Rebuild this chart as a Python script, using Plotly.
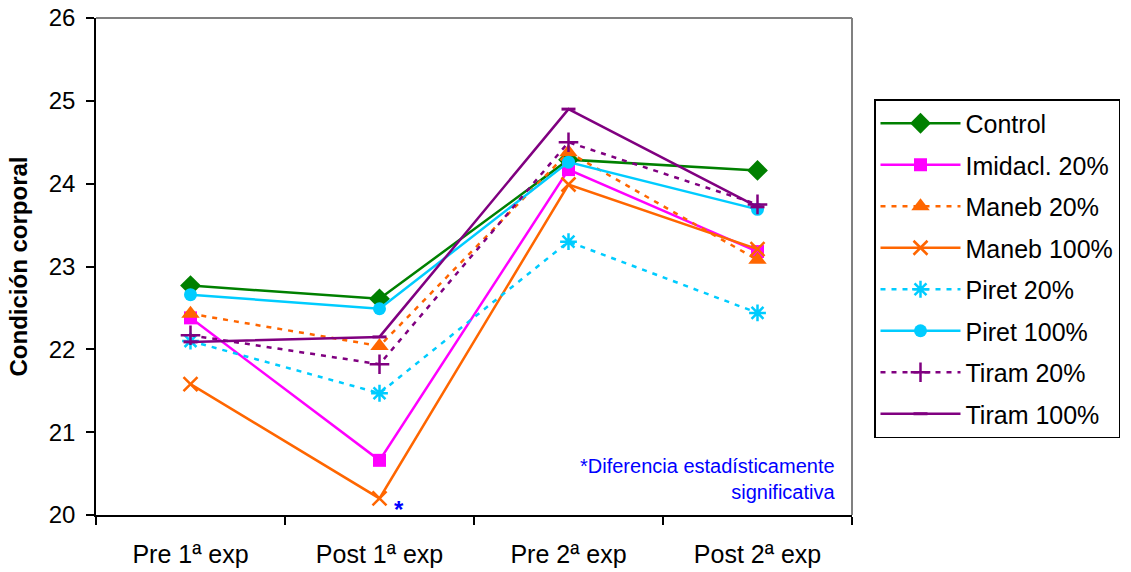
import plotly.graph_objects as go

categories = ["Pre 1ª exp", "Post 1ª exp", "Pre 2ª exp", "Post 2ª exp"]

control = [22.77, 22.61, 24.29, 24.16]
imidacl20 = [22.38, 20.66, 24.17, 23.18]
maneb20 = [22.43, 22.04, 24.38, 23.08]
maneb100 = [21.58, 20.20, 23.99, 23.21]
piret20 = [22.10, 21.47, 23.30, 22.44]
piret100 = [22.66, 22.49, 24.26, 23.69]
tiram20 = [22.17, 21.82, 24.50, 23.75]
tiram100 = [22.09, 22.15, 24.90, 23.72]

series = [
    ("Control", control, "#008000", "solid", "diamond", 16, 0),
    ("Imidacl. 20%", imidacl20, "#FF00FF", "solid", "square", 13, 0),
    ("Maneb 20%", maneb20, "#FF6600", "5px,6px", "triangle-up", 16, 0),
    ("Maneb 100%", maneb100, "#FF6600", "solid", "x-thin-open", 14, 2.5),
    ("Piret 20%", piret20, "#00CCFF", "5px,6px", "asterisk-open", 14, 2.5),
    ("Piret 100%", piret100, "#00CCFF", "solid", "circle", 13, 0),
    ("Tiram 20%", tiram20, "#800080", "5px,6px", "cross-thin-open", 14, 2.5),
    ("Tiram 100%", tiram100, "#800080", "solid", "line-ew-open", 10, 3),
]

FONT = "Arial, Liberation Sans, sans-serif"

fig = go.Figure()
for i, (name, vals, color, dash, sym, size, lw) in enumerate(series):
    fig.add_trace(go.Scatter(
        x=categories, y=vals, name=name, mode="lines+markers",
        line=dict(color=color, width=2.5, dash=dash),
        marker=dict(symbol=sym, size=size, color=color,
                    line=dict(color=color, width=lw)),
        legendgroup="g%d" % i,
    ))

fig.update_layout(
    width=1131, height=572,
    margin=dict(l=96, r=279, t=18, b=57),
    paper_bgcolor="white", plot_bgcolor="white",
    font=dict(family=FONT, size=20, color="black"),
    showlegend=True,
    legend=dict(
        x=874 / 1131, y=1 - 99 / 572, xref="container", yref="container",
        xanchor="left", yanchor="top",
        bordercolor="black", borderwidth=1.5,
        font=dict(family=FONT, size=25, color="black"),
        tracegroupgap=6, traceorder="grouped",
        itemwidth=80, maxheight=500,
    ),
    xaxis=dict(
        type="category", range=[-0.5, 3.5], automargin=False,
        showline=True, linecolor="black", linewidth=1.5,
        ticks="outside", ticklen=8, tickcolor="black", tickwidth=1.5,
        tickson="boundaries", showgrid=False, ticklabelstandoff=16,
        tickfont=dict(family=FONT, size=25, color="black"),
    ),
    yaxis=dict(
        range=[20, 26], dtick=1, automargin=False,
        showline=True, linecolor="black", linewidth=1.5,
        ticks="outside", ticklen=8, tickcolor="black", tickwidth=1.5,
        showgrid=False, zeroline=False, ticklabelstandoff=6,
        tickfont=dict(family=FONT, size=24, color="black"),
        title=dict(text="<b>Condición corporal</b>", font=dict(family=FONT, size=24, color="black"), standoff=14),
    ),
    shapes=[
        dict(type="line", xref="paper", yref="paper", x0=0, x1=1, y0=1, y1=1,
             line=dict(color="#808080", width=2)),
        dict(type="line", xref="paper", yref="paper", x0=1, x1=1, y0=0, y1=1,
             line=dict(color="#808080", width=2)),
    ],
    annotations=[
        dict(text="*Diferencia estadísticamente<br>significativa", xref="paper", yref="paper",
             x=0.98, y=0.02, xanchor="right", yanchor="bottom", align="right", showarrow=False,
             font=dict(family=FONT, size=20, color="#0000FF")),
        dict(text="<b>*</b>", x="Post 1ª exp", y=20, xshift=19, yshift=6, yanchor="middle",
             showarrow=False, font=dict(family=FONT, size=24, color="#0000FF")),
    ],
)

fig.write_html("out.html")
